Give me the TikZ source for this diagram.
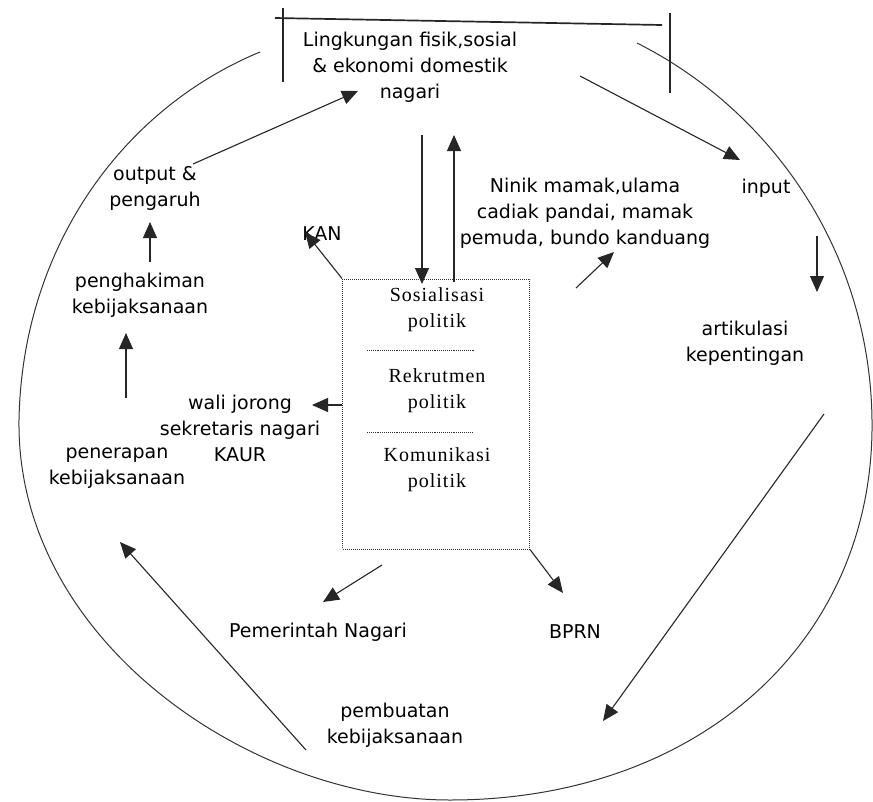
\documentclass[tikz,border=0pt]{standalone}
\usepackage{fontspec}
\setmainfont{DejaVu Sans}
\newfontfamily\boxfont[LetterSpace=5]{Liberation Serif}
\usetikzlibrary{arrows.meta,positioning,calc}
\tikzset{
  lbl/.style ={align=center, font=\fontsize{19}{26}\selectfont, inner sep=1pt},
  srf/.style ={align=center, font=\boxfont\fontsize{20}{26}\selectfont, inner sep=1pt},
  sysbox/.style={rectangle, draw=black!80, densely dotted, line width=1pt},
  sep/.style ={draw=black!80, densely dotted, line width=0.9pt},
  ar/.style  ={-{Triangle[length=16pt,width=14pt]}, line width=1.1pt, draw=black!85},
  frame/.style={line width=1.1pt, draw=black!85},
  loopln/.style={line width=1pt, draw=black!80},
}
\begin{document}
\begin{tikzpicture}[x=1pt,y=-1pt]
\useasboundingbox (0,0) rectangle (873,801);

% outer cycle
\coordinate (cL) at (260,52);
\coordinate (cR) at (637,43);
\draw[loopln] (cL) .. controls (120,110) and (22,250) .. (19,420)
  .. controls (16,640) and (250,800) .. (450,800)
  .. controls (700,800) and (875,640) .. (872,420)
  .. controls (870,250) and (770,110) .. (cR);

% environment at the top
\node[lbl] (env) at (410,67) {Lingkungan fisik,sosial\\\& ekonomi domestik\\nagari};
\draw[frame, line width=1.7pt] (275,18) -- (662,25);
\draw[frame] (283,8) -- (283,82);
\draw[frame] (670,13) -- (670,93);

% political system box
\node[sysbox, minimum width=187, minimum height=270] (sys) at (436,414) {};
\node[srf] (sos) at (437,310) {Sosialisasi\\politik};
\node[srf] (rek) at (437,391) {Rekrutmen\\politik};
\node[srf] (kom) at (437,470) {Komunikasi\\politik};
\draw[sep] (367,350) -- (475,350);
\draw[sep] (367,432) -- (473,432);

% labels round the cycle
\node[lbl] (out)   at (155,188) {output \&\\pengaruh};
\node[lbl] (judge) at (140,295) {penghakiman\\kebijaksanaan};
\node[lbl] (apply) at (117,468) {penerapan\\kebijaksanaan};
\node[lbl] (staff) at (240,428) {wali jorong\\sekretaris nagari\\KAUR};
\node[lbl] (kan)   at (322,234) {KAN};
\node[lbl] (ninik) at (585,213) {Ninik mamak,ulama\\cadiak pandai, mamak\\pemuda, bundo kanduang};
\node[lbl] (input) at (766,188) {input};
\node[lbl] (artik) at (745,343) {artikulasi\\kepentingan};
\node[lbl] (pemnag) at (318,632) {Pemerintah Nagari};
\node[lbl] (bprn)  at (575,632) {BPRN};
\node[lbl] (make)  at (395,725) {pembuatan\\kebijaksanaan};

% arrow ends
\coordinate (outS)  at (193,164);  \coordinate (envL)  at (358,91);
\coordinate (envR)  at (580,76);   \coordinate (inT)   at (740,160);
\coordinate (envD)  at (422,135);  \coordinate (sysT)  at (422,284);
\coordinate (sysU)  at (454,282);  \coordinate (envU)  at (454,135);
\coordinate (inS)   at (817,236);  \coordinate (artT)  at (817,292);
\coordinate (ninS)  at (576,288);  \coordinate (ninT)  at (614,252);
\coordinate (kanT)  at (305,232);  \coordinate (stfT)  at (312,405);
\coordinate (pemS)  at (382,565);  \coordinate (pemT)  at (323,602);
\coordinate (bprT)  at (563,593);
\coordinate (artS)  at (824,414);  \coordinate (mkT)   at (603,721);
\coordinate (mkS)   at (306,750);  \coordinate (apT)   at (120,542);
\coordinate (apS)   at (126,398);  \coordinate (jdT)   at (126,333);
\coordinate (jdS)   at (150,262);  \coordinate (outT)  at (150,222);

\draw[ar] (outS) -- (envL);
\draw[ar] (envR) -- (inT);
\draw[ar] (envD) -- (sysT);
\draw[ar] (sysU) -- (envU);
\draw[ar] (inS) -- (artT);
\draw[ar] (ninS) -- (ninT);
\draw[ar] (sys.north west) -- (kanT);
\draw[ar] (sys.west |- stfT) -- (stfT);
\draw[ar] (pemS) -- (pemT);
\draw[ar] (sys.south east) -- (bprT);
\draw[ar] (artS) -- (mkT);
\draw[ar] (mkS) -- (apT);
\draw[ar] (apS) -- (jdT);
\draw[ar] (jdS) -- (outT);
\end{tikzpicture}
\end{document}
